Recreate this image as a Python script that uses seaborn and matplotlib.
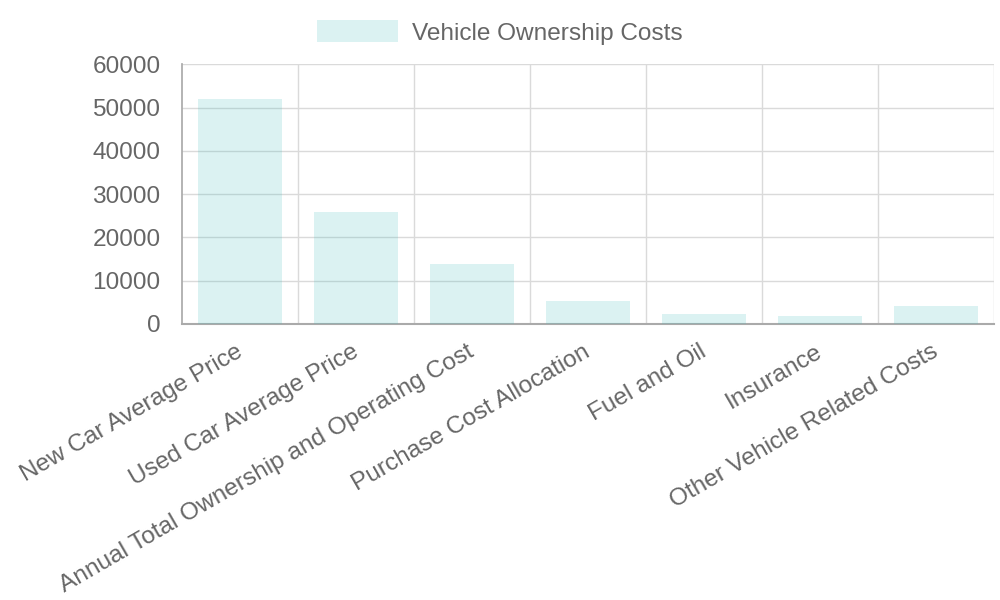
import matplotlib
matplotlib.use("Agg")
import matplotlib.pyplot as plt
import matplotlib.transforms as mtrans
import seaborn as sns
import pandas as pd
from matplotlib.patches import Patch

# Chart values
categories = [
    "New Car Average Price",
    "Used Car Average Price",
    "Annual Total Ownership and Operating Cost",
    "Purchase Cost Allocation",
    "Fuel and Oil",
    "Insurance",
    "Other Vehicle Related Costs",
]
costs = [52000, 25900, 13800, 5300, 2400, 1900, 4200]
series_name = "Vehicle Ownership Costs"
y_ticks = [0, 10000, 20000, 30000, 40000, 50000, 60000]

df = pd.DataFrame({"category": categories, "cost": costs})

sns.set_theme(style="white")
plt.rcParams["font.family"] = ["Liberation Sans", "DejaVu Sans"]

fill = (75 / 255, 192 / 255, 192 / 255, 0.2)
text_col = "#666666"
grid_col = "#dadada"
fs = 17.6

fig = plt.figure(figsize=(10, 6), dpi=100)
ax = fig.add_axes([0.182, 0.46, 0.812, 0.433])

sns.barplot(data=df, x="category", y="cost", color=fill, saturation=1,
            width=0.72, linewidth=0, ax=ax, zorder=3)
for p in ax.patches:
    p.set_facecolor(fill)

ax.set_xlim(-0.5, len(categories) - 0.5)
ax.set_ylim(0, 60000)
ax.set_yticks(y_ticks)
ax.set_yticklabels([str(v) for v in y_ticks])
ax.set_xlabel("")
ax.set_ylabel("")

# grid lines between categories, like the original
bounds = [i - 0.5 for i in range(len(categories) + 1)]
for b in bounds[1:]:
    ax.axvline(b, color=grid_col, lw=1, zorder=0)
for v in y_ticks[1:]:
    ax.axhline(v, color=grid_col, lw=1, zorder=0)

ax.set_xticks(bounds, minor=True)
ax.tick_params(axis="x", which="minor", length=18, color=grid_col, width=1)
ax.tick_params(axis="x", which="major", length=0, pad=12)
ax.tick_params(axis="y", length=10, color=grid_col, width=1, pad=5.5,
               labelsize=fs, labelcolor=text_col)
ax.set_xticks(range(len(categories)))
ax.set_xticklabels(categories, rotation=30, ha="right",
                   rotation_mode="anchor", fontsize=fs, color=text_col)
shift = mtrans.ScaledTranslation(-5 / 100, 0, fig.dpi_scale_trans)
for lab in ax.get_xticklabels():
    lab.set_transform(lab.get_transform() + shift)

for s in ["top", "right"]:
    ax.spines[s].set_visible(False)
ax.spines["left"].set_color("#aaaaaa")
ax.spines["bottom"].set_color("#aaaaaa")
ax.spines["bottom"].set_linewidth(1.5)

fig.legend(handles=[Patch(facecolor=fill, edgecolor="none", label=series_name)],
           loc="upper center", bbox_to_anchor=(0.5, 1.003), frameon=False,
           fontsize=fs, labelcolor=text_col, handlelength=3.3,
           handleheight=1.0, handletextpad=0.6)

fig.savefig("out.png", dpi=100)
